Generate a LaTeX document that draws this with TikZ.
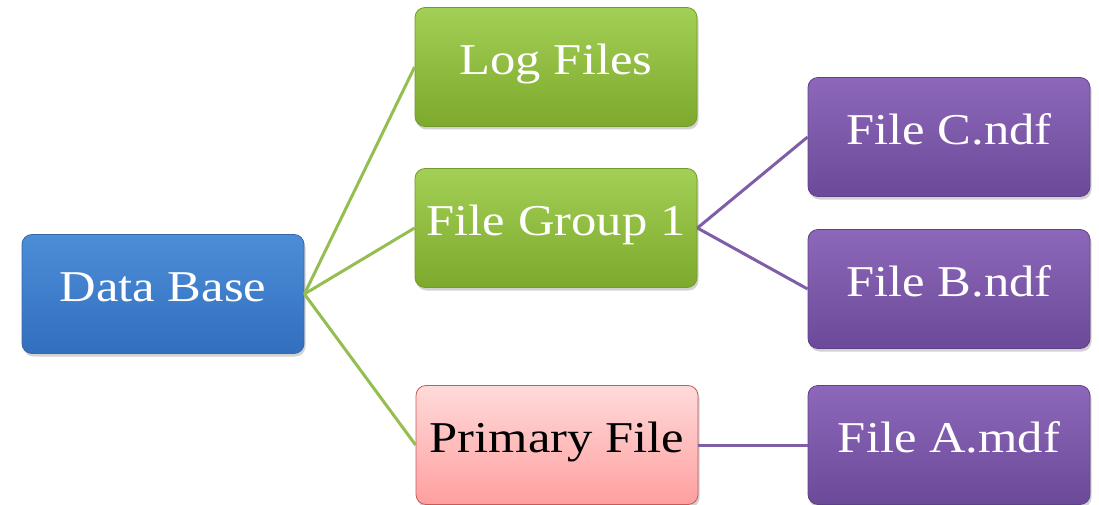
\documentclass[tikz,border=0pt]{standalone}
\usepackage{fontspec}
\setmainfont[FakeStretch=1.15]{Liberation Serif}
\usetikzlibrary{shadows}

\definecolor{blueTop}{HTML}{4C8DD8}
\definecolor{blueBot}{HTML}{326FBD}
\definecolor{blueEdge}{HTML}{3868A8}
\definecolor{greenTop}{HTML}{A2CF55}
\definecolor{greenBot}{HTML}{7DAA2C}
\definecolor{greenEdge}{HTML}{74992C}
\definecolor{purpleTop}{HTML}{8D68BA}
\definecolor{purpleBot}{HTML}{6C4999}
\definecolor{purpleEdge}{HTML}{5E4287}
\definecolor{pinkTop}{HTML}{FFDADA}
\definecolor{pinkBot}{HTML}{FF9F9F}
\definecolor{pinkEdge}{HTML}{C85A57}
\definecolor{greenLink}{HTML}{94BE50}
\definecolor{purpleLink}{HTML}{7F5DA8}

\tikzset{
  box/.style={rectangle, rounded corners=10pt, minimum width=282pt,
    minimum height=119pt, line width=0.8pt, inner sep=0pt,
    text height=29pt, text depth=14pt,
    font=\fontsize{44}{52}\selectfont,
    drop shadow={opacity=0.35, shadow xshift=1.5pt, shadow yshift=-3pt}},
  bluebox/.style={box, draw=blueEdge, top color=blueTop, bottom color=blueBot, text=white},
  greenbox/.style={box, draw=greenEdge, top color=greenTop, bottom color=greenBot, text=white},
  purplebox/.style={box, draw=purpleEdge, top color=purpleTop, bottom color=purpleBot, text=white},
  pinkbox/.style={box, draw=pinkEdge, top color=pinkTop, bottom color=pinkBot, text=black},
  greenline/.style={draw=greenLink, line width=3pt},
  purpleline/.style={draw=purpleLink, line width=3pt},
}

\begin{document}
\begin{tikzpicture}[x=1pt, y=-1pt]
  \useasboundingbox (0,0) rectangle (1099,505);
  \clip (0,0) rectangle (1099,505);
  \fill[white] (0,0) rectangle (1099,505);

  % tree nodes
  \node[bluebox]   (db)  at (163,294) {Data Base};
  \node[greenbox]  (log) at (556,67)  {Log Files};
  \node[greenbox]  (fg)  at (556,228) {File Group 1};
  \node[pinkbox]   (pf)  at (557,445) {Primary File};
  \node[purplebox] (fc)  at (949,137) {File C.ndf};
  \node[purplebox] (fb)  at (949,289) {File B.ndf};
  \node[purplebox] (fa)  at (949,445) {File A.mdf};

  % links
  \draw[greenline] (db.east) -- (log.west);
  \draw[greenline] (db.east) -- (fg.west);
  \draw[greenline] (db.east) -- (pf.west);
  \draw[purpleline] (fg.east) -- (fc.west);
  \draw[purpleline] (fg.east) -- (fb.west);
  \draw[purpleline] (pf.east) -- (fa.west);
\end{tikzpicture}
\end{document}
